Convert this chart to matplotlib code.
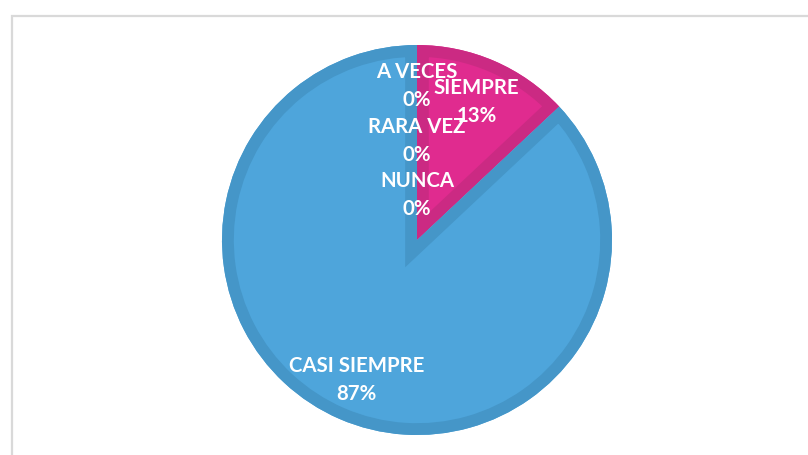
import matplotlib
matplotlib.use("Agg")
import matplotlib.pyplot as plt
from matplotlib.patches import Rectangle, Wedge
import numpy as np

categories = ["SIEMPRE", "CASI SIEMPRE", "A VECES", "RARA VEZ", "NUNCA"]
values = [13, 87, 0, 0, 0]
colors = ["#E02B8F", "#4EA5DB", "#4EA5DB", "#4EA5DB", "#4EA5DB"]
bevel = ["#CB2A83", "#4596C8", "#4596C8", "#4596C8", "#4596C8"]
label_r = [0.77, 0.78, 0.79, 0.51, 0.23]

W, H = 808, 455
fig = plt.figure(figsize=(W / 100, H / 100), dpi=100)
ax = fig.add_axes([0, 0, 1, 1])

# chart frame
ax.add_patch(Rectangle((11.5, -10), W + 20, H - 15.5 + 10, fill=False,
                       edgecolor="#D9D9D9", linewidth=1.6))

cx, cy, R = 417, 215, 195
wedges, _ = ax.pie(values, colors=colors, startangle=90, counterclock=False,
                   center=(cx, cy), radius=R, frame=True,
                   wedgeprops=dict(linewidth=0))
ax.set_xlim(0, W)
ax.set_ylim(0, H)
ax.set_aspect("equal")
ax.axis("off")

for w, bc, v in zip(wedges, bevel, values):
    if v <= 0:
        continue
    e = Wedge(w.center, w.r, w.theta1, w.theta2, facecolor="none",
              edgecolor=bc, linewidth=17, zorder=w.get_zorder() + 0.1)
    ax.add_patch(e)
    e.set_clip_path(w)

total = sum(values)
ang = 90.0
for cat, v, lr in zip(categories, values, label_r):
    span = 360.0 * v / total
    mid = np.deg2rad(ang - span / 2)
    ang -= span
    x = cx + lr * R * np.cos(mid)
    y = cy + lr * R * np.sin(mid)
    ax.text(x, y, f"{cat}\n{round(100 * v / total)}%", ha="center", va="center",
            color="white", fontsize=14.7, fontweight="bold", family="Lato",
            linespacing=1.5, zorder=10)

fig.savefig("out.png", dpi=100)
